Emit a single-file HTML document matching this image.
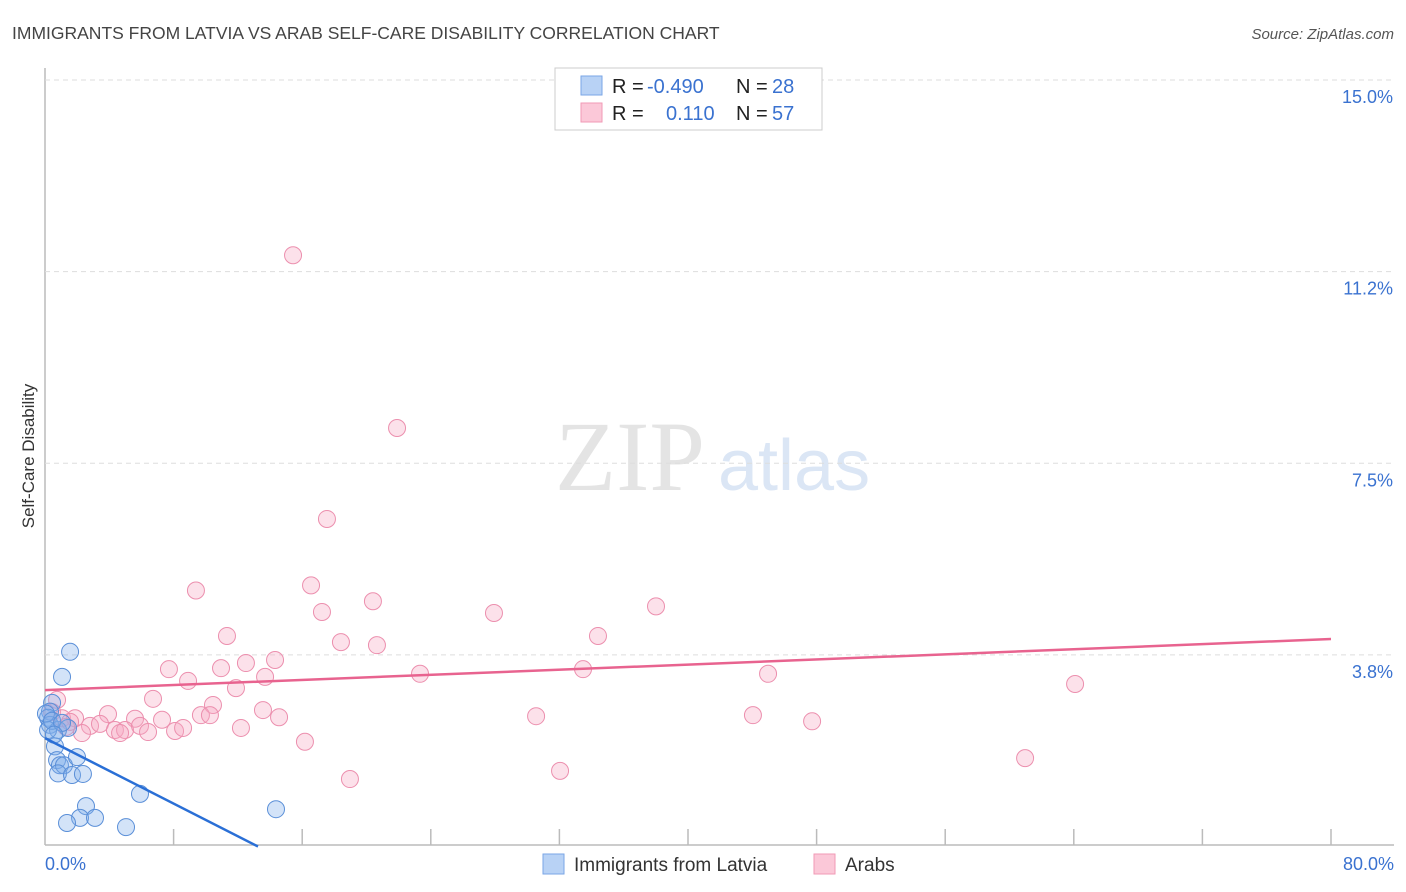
<!DOCTYPE html>
<html><head><meta charset="utf-8">
<style>
body{margin:0;background:#fff;font-family:"Liberation Sans",sans-serif;}
#wrap{position:relative;width:1406px;height:892px;overflow:hidden;}
</style></head>
<body>
<div id="wrap">
<svg id="svg" width="1406" height="892" xmlns="http://www.w3.org/2000/svg">
<text x="12" y="39" font-size="17.5" fill="#444">IMMIGRANTS FROM LATVIA VS ARAB SELF-CARE DISABILITY CORRELATION CHART</text>
<text x="1394" y="39" font-size="15" fill="#555" font-style="italic" text-anchor="end">Source: ZipAtlas.com</text>
<text x="555" y="490" font-size="100" fill="#e4e4e4" font-family="Liberation Serif,serif">ZIP</text>
<text x="718" y="490" font-size="72" fill="#dbe6f5">atlas</text>
<text transform="translate(34,456) rotate(-90)" font-size="17" fill="#333" text-anchor="middle">Self-Care Disability</text>
<g id="grid"></g>
<g id="marks"></g>
<rect x="555" y="68" width="267" height="62" fill="#fff" stroke="#ccc"/>
<rect x="581" y="76" width="21" height="19" fill="#b8d2f5" stroke="#7aa6e6"/>
<rect x="581" y="103" width="21" height="19" fill="#fbc8d8" stroke="#f09ab6"/>
<g font-size="20">
<text x="612" y="93" fill="#222">R = </text><text x="647" y="93" fill="#3a72d0">-0.490</text>
<text x="736" y="93" fill="#222">N = </text><text x="772" y="93" fill="#3a72d0">28</text>
<text x="612" y="120" fill="#222">R = </text><text x="666" y="120" fill="#3a72d0">0.110</text>
<text x="736" y="120" fill="#222">N = </text><text x="772" y="120" fill="#3a72d0">57</text>
</g>
<rect x="543" y="854" width="21" height="20" fill="#b8d2f5" stroke="#7aa6e6"/>
<text x="574" y="871" font-size="19" fill="#333">Immigrants from Latvia</text>
<rect x="814" y="854" width="21" height="20" fill="#fbc8d8" stroke="#f09ab6"/>
<text x="845" y="871" font-size="19" fill="#333">Arabs</text>
</svg>
</div>
<script>
const yTicks=[15.0,11.25,7.5,3.75];
const yTickLabels=["15.0%","11.2%","7.5%","3.8%"];
const xTicks=[0,8,16,24,32,40,48,56,64,72,80];
const xEndLabels=["0.0%","80.0%"];
const latviaX=[1.56,1.06,0.44,0.31,0.19,0.31,0.81,1.43,0.62,0.75,0.93,1.18,0.81,1.99,1.68,2.36,2.55,2.18,3.11,1.37,5.04,5.91,14.37,0.19,0.06,0.44,1.06,0.56];
const latviaY=[3.81,3.32,2.81,2.64,2.52,2.38,2.28,2.32,1.96,1.69,1.59,1.59,1.43,1.75,1.40,1.42,0.79,0.56,0.56,0.46,0.38,1.03,0.73,2.28,2.60,2.46,2.42,2.19];
const arabsX=[15.43,21.90,17.54,9.39,16.55,20.40,17.23,27.93,38.01,11.32,18.41,20.65,34.40,7.71,10.95,12.50,14.31,23.33,33.47,44.98,8.90,11.88,13.69,64.08,6.72,10.45,9.70,10.26,13.56,14.56,30.55,44.04,47.72,3.92,5.60,7.28,12.19,16.17,18.97,32.04,60.97,0.75,0.44,1.06,1.87,2.80,3.42,4.35,4.98,5.91,6.41,8.09,8.59,1.31,2.30,4.67,1.56];
const arabsY=[11.57,8.19,6.41,5.01,5.11,4.80,4.59,4.57,4.70,4.12,4.00,3.94,4.12,3.47,3.49,3.59,3.65,3.38,3.47,3.38,3.24,3.10,3.32,3.18,2.89,2.77,2.57,2.57,2.67,2.53,2.55,2.57,2.45,2.59,2.50,2.48,2.32,2.05,1.32,1.48,1.73,2.87,2.63,2.51,2.51,2.36,2.40,2.28,2.28,2.36,2.24,2.26,2.32,2.34,2.22,2.22,2.44];
const latviaTrend=[2.12,-0.16];   // value at x=0, slope per %
const arabsTrend=[3.06,0.0125];
const NS="http://www.w3.org/2000/svg";
const X0=45,X1=1331,Y0=846.5;
function sx(v){return X0+(X1-X0)*v/80;}
function sy(v){return Y0-v*51.1;}
function mk(tag,attrs,parent){const e=document.createElementNS(NS,tag);for(const k in attrs)e.setAttribute(k,attrs[k]);parent.appendChild(e);return e;}
const grid=document.getElementById('grid'),marks=document.getElementById('marks');
let e;
e=mk('line',{x1:45,y1:68,x2:45,y2:845,stroke:'#bbb','stroke-width':1.5},grid);


e=mk('line',{x1:45,y1:845,x2:1394,y2:845,stroke:'#bbb','stroke-width':1.5},grid);


yTicks.forEach((t,i)=>{
 e=mk('line',{x1:45,y1:sy(t),x2:1394,y2:sy(t),stroke:'#ddd','stroke-dasharray':'5,4'},grid);
 
 
 e=mk('text',{x:1393,y:sy(t)+23,'font-size':18,fill:'#3a72d0','text-anchor':'end'},grid);
 e.textContent=yTickLabels[i];
 
 
});
xTicks.forEach(t=>{
 if(t===0)return;
 e=mk('line',{x1:sx(t),y1:829,x2:sx(t),y2:845,stroke:'#bbb','stroke-width':1.5},grid);
 
 
});
e=mk('text',{x:45,y:870,'font-size':18,fill:'#3a72d0'},grid);e.textContent=xEndLabels[0];


e=mk('text',{x:1394,y:870,'font-size':18,fill:'#3a72d0','text-anchor':'end'},grid);e.textContent=xEndLabels[1];


arabsX.forEach((x,i)=>{
 e=mk('circle',{cx:sx(x),cy:sy(arabsY[i]),r:8.5,fill:'rgba(246,168,196,0.35)',stroke:'#ec8fae','stroke-width':1},marks);
 
 
});
latviaX.forEach((x,i)=>{
 e=mk('circle',{cx:sx(x),cy:sy(latviaY[i]),r:8.5,fill:'rgba(130,175,235,0.35)',stroke:'#5a8fd8','stroke-width':1},marks);
 
 
});
e=mk('line',{x1:sx(0),y1:sy(arabsTrend[0]),x2:sx(80),y2:sy(arabsTrend[0]+arabsTrend[1]*80),stroke:'#e8638f','stroke-width':2.5},marks);


const xe=-latviaTrend[0]/latviaTrend[1];
e=mk('line',{x1:sx(0),y1:sy(latviaTrend[0]),x2:sx(xe),y2:sy(0),stroke:'#2a6fd6','stroke-width':2.5},marks);


</script>
</body></html>
